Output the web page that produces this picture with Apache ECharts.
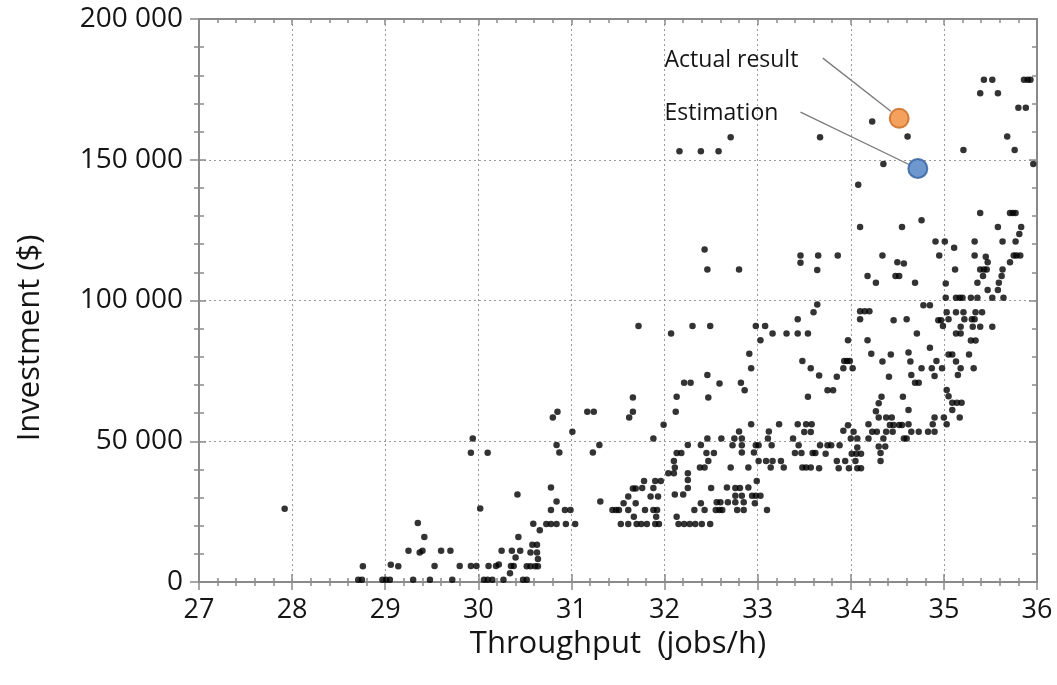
<!DOCTYPE html>
<html><head><meta charset="utf-8">
<script src="https://cdn.jsdelivr.net/npm/echarts@6/dist/echarts.min.js"></script>
<style>html,body{margin:0;padding:0;background:#fff}#c{width:1057px;height:685px}</style>
</head><body><div id="c"></div>
<script>
// ---- data (throughput jobs/h, investment $) ----
const xAxisTitle = 'Throughput  (jobs/h)';
const yAxisTitle = 'Investment ($)';
const xRange = [27, 36];
const yRange = [0, 200000];

const lowDesigns = [[27.92,26000],[28.71,800],[28.75,800],[28.76,5600],[28.97,800],[29.01,800],[29.05,800],[29.06,6100],[29.14,5600],[29.25,11100],[29.30,800],[29.35,21000],[29.37,10500],[29.40,11100],[29.42,16000],[29.48,800],[29.53,5700],[29.60,11100],[29.70,11100],[29.72,800],[29.80,5700],[29.92,5700],[29.98,5700],[29.92,45900],[29.94,51000],[30.10,45900],[30.02,26100],[30.06,800],[30.10,800],[30.15,800],[30.11,5700],[30.19,5700],[30.22,6200],[30.25,11100],[30.27,800],[30.34,3100],[30.35,5700],[30.38,5700],[30.36,11100],[30.40,8700],[30.42,31100],[30.43,16000],[30.45,11100],[30.48,800],[30.52,800],[30.52,5600],[30.56,5600],[30.61,5600],[30.64,5600],[30.56,10500],[30.63,10500],[30.58,13200],[30.63,13200],[30.64,8200],[30.59,20700],[30.66,18400],[30.73,20600],[30.78,20600],[30.84,20600],[30.94,20600],[31.04,20600],[30.78,25600],[30.84,28600],[30.78,33600],[30.93,25600],[30.99,25600],[30.80,58400],[30.85,60500],[30.84,48700],[30.87,46000],[31.01,53400],[31.17,60500],[31.24,60500],[31.23,46000],[31.30,48700],[31.31,28600],[31.44,25600],[31.48,25600],[31.51,25600],[31.53,20600]];

const midDesignsA = [[31.56,28000],[31.61,30400],[31.66,33200],[31.69,33200],[31.76,33400],[31.78,35900],[31.88,33400],[31.90,35900],[31.96,35900],[31.85,30400],[31.93,30400],[31.61,25600],[31.69,28000],[31.79,25600],[31.88,25600],[31.92,25600],[31.67,23200],[31.91,23200],[31.61,20600],[31.70,20600],[31.75,20600],[31.81,20600],[31.90,20600],[31.94,20600],[31.72,90900],[31.66,65500],[31.66,60500],[31.62,58400],[31.88,51000],[31.99,55900],[32.07,88300],[32.30,90900],[32.49,90900],[32.46,73500],[32.21,70800],[32.28,70800],[32.13,65800],[32.47,65500],[32.12,60500],[32.46,51000],[32.25,48700],[32.39,48700],[32.13,45800],[32.18,45800],[32.45,45800],[32.10,43000],[32.11,40700],[32.47,43000],[32.38,40700],[32.43,40700],[32.04,38600],[32.10,38600],[32.25,38600],[32.25,36200],[32.25,33400],[32.11,31100],[32.20,31100],[32.50,33400],[32.13,23200],[32.15,20600],[32.21,20600],[32.27,20600],[32.33,20600],[32.40,20600],[32.49,20600],[32.32,25600],[32.43,25600],[32.39,28000],[32.16,153000],[32.39,153000],[32.58,153000],[32.71,158000],[32.43,118100],[32.46,111000],[32.80,111000]];

const midDesignsB = [[33.67,158000],[33.46,116000],[33.46,113400],[33.65,116000],[33.86,116000],[33.64,110800],[32.98,90900],[33.08,90900],[33.16,88300],[33.31,88300],[33.43,88300],[33.54,88300],[33.03,85900],[33.43,93300],[33.60,95800],[33.64,98600],[32.91,81100],[32.93,75900],[33.48,78500],[33.57,75900],[33.66,73400],[33.54,65800],[32.82,70800],[32.86,68100],[32.59,70500],[32.93,56000],[32.80,53500],[33.23,56000],[33.43,56000],[33.52,56000],[33.58,56000],[33.50,53300],[33.57,53300],[33.12,53500],[33.38,51000],[32.61,51000],[32.75,51000],[32.83,51000],[32.73,48600],[32.83,48600],[32.98,48600],[33.01,48600],[33.11,51000],[33.15,48600],[33.44,48600],[33.67,48600],[32.83,46000],[32.96,46000],[32.53,45800],[33.40,45800],[33.47,45800],[33.59,45800],[33.62,45800],[33.01,43000],[33.09,43000],[33.16,43000],[33.25,43000],[32.71,40700],[32.90,40700],[33.14,40700],[33.28,40700],[33.48,40700],[33.52,40700],[33.57,40700],[32.55,25600],[32.59,25600],[32.62,25600],[32.56,28300],[32.60,28300],[32.67,33600],[32.68,28300],[32.76,33400],[32.81,33400],[32.76,30600],[32.83,30600],[32.76,28300],[32.85,28300],[32.78,25600],[32.85,25600],[32.90,33600],[32.94,30600],[32.98,30600],[32.99,35900],[33.03,30600],[32.97,28000],[33.10,25600],[33.85,72900],[33.75,68100],[33.81,68100],[33.92,75900],[33.97,85900],[33.93,78500],[33.96,78500],[33.99,78500],[34.02,75900],[34.10,96200],[34.15,96200],[34.20,96200],[34.10,93300],[34.18,85900],[34.22,81100],[33.97,55700],[34.03,53400],[34.19,56000],[34.19,51000],[34.00,51000],[34.07,51000],[33.88,48600],[33.79,48600],[33.75,48600],[33.73,45600],[34.01,45600],[34.06,45600],[34.11,45600],[34.07,47800],[33.85,43000],[33.94,43000],[34.05,43000],[33.66,40400],[33.87,40400],[33.98,40400],[34.07,40400],[34.11,40400],[33.92,53700]];

const highDesigns = [[34.08,141100],[34.10,126100],[34.55,126100],[34.76,128500],[34.34,78300],[34.43,80800],[34.41,72900],[34.62,81500],[34.64,78300],[34.65,73500],[34.69,70800],[34.73,70800],[34.76,75900],[34.85,83200],[34.87,75900],[34.90,73200],[34.92,78500],[34.98,75900],[35.05,80800],[35.09,80800],[35.13,78300],[35.18,75900],[35.15,73500],[35.03,68200],[35.05,66000],[35.09,63700],[35.14,63700],[35.19,63700],[35.09,61100],[35.17,58400],[35.00,58400],[35.03,56000],[34.88,56000],[34.83,53400],[34.90,53400],[34.73,53400],[34.65,53400],[34.57,51000],[34.60,51000],[34.62,61100],[34.56,65800],[34.38,58400],[34.44,58400],[34.42,55800],[34.46,55800],[34.52,55800],[34.55,55800],[34.38,53400],[34.45,53400],[34.35,51000],[34.30,58400],[34.27,60700],[34.30,63500],[34.33,65800],[34.23,53400],[34.28,53400],[34.30,48100],[34.37,48100],[34.32,45800],[34.32,43000],[34.62,56000],[34.90,58400],[34.23,163600],[34.61,158300],[34.35,148500],[35.21,153500],[35.39,173600],[35.43,178400],[35.52,178400],[35.58,173600],[35.68,158300],[35.76,153500],[35.80,168500],[35.88,168500],[35.86,178400],[35.90,178400],[35.93,178400],[35.96,148500],[35.39,131100],[35.71,131100],[35.74,131100],[35.77,131100],[35.58,126100],[35.63,121000],[35.83,126100],[35.81,123600],[35.77,121000],[35.75,116000],[35.78,116000],[35.82,116000],[35.71,113600],[34.91,121000],[35.01,121000],[34.95,116000],[35.11,118700],[35.12,111000],[35.33,121000],[35.33,116000],[35.45,115500],[35.47,113600],[35.39,111000],[35.43,111000],[35.46,111000],[35.42,108700],[35.63,111000],[35.62,108700],[35.59,106300],[35.47,103700],[35.52,101000],[35.58,103700],[35.64,101000],[35.36,106300],[35.02,106000],[35.02,101000],[35.13,101000],[35.17,101000],[35.20,101000],[35.29,101000],[35.36,101000],[34.78,98300],[34.85,98300],[34.46,93000],[34.60,93300],[34.94,93000],[34.97,93000],[34.99,90900],[35.05,93300],[35.13,88300],[35.18,88300],[35.18,90700],[35.22,93300],[35.30,93300],[35.33,93300],[35.31,90700],[35.39,90700],[35.29,85800],[35.34,85800],[35.27,80800],[35.32,75900],[35.52,90700],[34.71,88300],[35.03,95800],[35.13,95800],[35.21,95800],[35.34,95800],[35.41,95800],[34.18,108700],[34.27,106300],[34.50,113600],[34.57,113100],[34.48,108700],[34.52,108700],[34.69,106300],[34.34,116000]];

const actualResult = [34.52, 164700];
const estimation = [34.72, 146900];
const annotationLabels = ['Actual result', 'Estimation'];
const annotationAnchors = [[32.00, 185400], [32.00, 166600]];
const leaderLines = [
  [[33.70, 186100], [34.43, 167200]],
  [[33.46, 166900], [34.62, 148400]]
];

// ---- chart ----
const designs = lowDesigns.concat(midDesignsA, midDesignsB, highDesigns);
const FONT = 'Open Sans';
const AX = '#8a8a8a';
const TXT = '#151515';
const fmt = v => v === 0 ? '0' : String(v).replace(/\B(?=(\d{3})+(?!\d))/g, ' ');

function xAx(opts) {
  return Object.assign({
    type: 'value', min: xRange[0], max: xRange[1], interval: 1,
    position: 'bottom',
    axisLine: { show: true, onZero: false, lineStyle: { color: AX, width: 2 } },
    axisTick: { show: true, inside: false, length: 8, lineStyle: { color: AX, width: 1.5 } },
    minorTick: { show: true, splitNumber: 5, length: 4, lineStyle: { color: AX, width: 1.5 } },
    axisLabel: { show: false },
    splitLine: { show: false }
  }, opts);
}
function yAx(opts) {
  return Object.assign({
    type: 'value', min: yRange[0], max: yRange[1], interval: 50000,
    position: 'left',
    axisLine: { show: true, onZero: false, lineStyle: { color: AX, width: 2 } },
    axisTick: { show: true, inside: false, length: 9, lineStyle: { color: AX, width: 1.5 } },
    minorTick: { show: true, splitNumber: 5, length: 5, lineStyle: { color: AX, width: 1.5 } },
    axisLabel: { show: false },
    splitLine: { show: false }
  }, opts);
}

const chart = echarts.init(document.getElementById('c'), null, { renderer: 'canvas' });
chart.setOption({
  animation: false,
  backgroundColor: '#ffffff',
  grid: { left: 199, right: 20, top: 19, bottom: 103, containLabel: false },
  xAxis: [
    xAx({
      name: xAxisTitle, nameLocation: 'middle', nameGap: 35,
      nameTextStyle: { fontFamily: FONT, fontSize: 31, color: TXT },
      axisLabel: { show: true, margin: 15, fontFamily: FONT, fontSize: 27, color: TXT },
      splitLine: { show: true, lineStyle: { color: '#9a9a9a', type: [2, 3], width: 1 } }
    }),
    xAx({ axisTick: { show: true, inside: true, length: 8, lineStyle: { color: AX, width: 1.5 } },
          minorTick: { show: true, splitNumber: 5, length: 4, lineStyle: { color: AX, width: 1.5 } } }),
    xAx({ position: 'top',
          axisTick: { show: true, inside: true, length: 6, lineStyle: { color: AX, width: 1.5 } },
          minorTick: { show: true, splitNumber: 5, length: 4, lineStyle: { color: AX, width: 1.5 } } })
  ],
  yAxis: [
    yAx({
      axisLabel: { show: true, margin: 16, fontFamily: FONT, fontSize: 28, color: TXT, formatter: fmt },
      splitLine: { show: true, lineStyle: { color: '#9a9a9a', type: [2, 3], width: 1 } }
    }),
    yAx({ axisTick: { show: true, inside: true, length: 7, lineStyle: { color: AX, width: 1.5 } },
          minorTick: { show: true, splitNumber: 5, length: 5, lineStyle: { color: AX, width: 1.5 } } }),
    yAx({ position: 'right',
          axisTick: { show: true, inside: true, length: 8, lineStyle: { color: AX, width: 1.5 } },
          minorTick: { show: true, splitNumber: 5, length: 5, lineStyle: { color: AX, width: 1.5 } } })
  ],
  series: [
    {
      type: 'scatter', name: 'Designs', xAxisIndex: 0, yAxisIndex: 0,
      data: designs, symbol: 'circle', symbolSize: 6.5,
      itemStyle: { color: '#000000' }, silent: true,
      markLine: {
        silent: true, symbol: ['none', 'none'], label: { show: false },
        lineStyle: { color: '#7a7a7a', width: 1.3, type: 'solid' },
        data: leaderLines.map(l => [{ coord: l[0] }, { coord: l[1] }])
      }
    },
    {
      type: 'scatter', name: 'Actual result', xAxisIndex: 0, yAxisIndex: 0,
      data: [actualResult], symbolSize: 19, z: 5,
      itemStyle: { color: '#F08A33', borderColor: '#C8671E', borderWidth: 2 }
    },
    {
      type: 'scatter', name: 'Estimation', xAxisIndex: 0, yAxisIndex: 0,
      data: [estimation], symbolSize: 19, z: 5,
      itemStyle: { color: '#4A7DC2', borderColor: '#2E5E9E', borderWidth: 2 }
    }
  ]
});

const g = annotationLabels.map((t, i) => {
  const p = chart.convertToPixel({ xAxisIndex: 0, yAxisIndex: 0 }, annotationAnchors[i]);
  return { type: 'text', x: p[0], y: p[1],
    style: { text: t, fontFamily: FONT, fontSize: 23, fill: TXT, align: 'left', verticalAlign: 'middle' } };
});
g.push({ type: 'text', x: 30, y: 338, rotation: Math.PI / 2,
  style: { text: yAxisTitle, fontFamily: FONT, fontSize: 31, fill: TXT, align: 'center', verticalAlign: 'middle' } });
chart.setOption({ graphic: g });
</script>
</body></html>
